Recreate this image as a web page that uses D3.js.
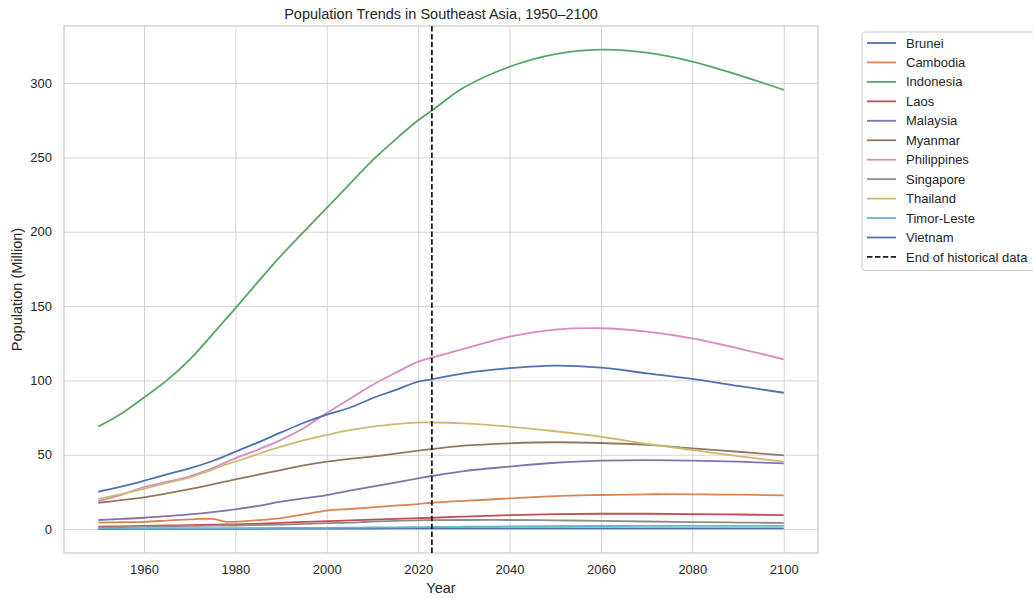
<!DOCTYPE html>
<html>
<head>
<meta charset="utf-8">
<script src="https://cdn.jsdelivr.net/npm/d3@7"></script>
<style>
  body { margin: 0; background: #fff; }
  svg { font-family: "Liberation Sans", Arial, sans-serif; }
</style>
</head>
<body>
<svg id="chart" width="1033" height="599"></svg>
<script>
// population in millions
const years = [1950, 1955, 1960, 1965, 1970, 1975, 1978, 1980, 1985, 1990, 1995, 2000, 2005,
  2010, 2015, 2020, 2023, 2030, 2040, 2050, 2060, 2070, 2080, 2090, 2100];

const countries = ["Brunei", "Cambodia", "Indonesia", "Laos", "Malaysia", "Myanmar",
  "Philippines", "Singapore", "Thailand", "Timor-Leste", "Vietnam"];

const brunei = [0.05, 0.06, 0.08, 0.1, 0.13, 0.16, 0.18, 0.19, 0.22, 0.26, 0.3, 0.33, 0.36,
  0.39, 0.42, 0.44, 0.46, 0.49, 0.52, 0.53, 0.53, 0.52, 0.5, 0.48, 0.46];
const cambodia = [4.3, 4.6, 4.9, 5.7, 6.5, 6.8, 4.9, 4.9, 6.0, 7.4, 9.9, 12.4, 13.5,
  14.6, 15.7, 16.8, 17.7, 19.0, 20.6, 22.2, 22.9, 23.4, 23.4, 23.1, 22.7];
const indonesia = [68.9, 77.5, 88.5, 100, 114, 131, 141.5, 148.5, 166.5, 184, 200, 216, 232,
  248, 262, 275, 281.5, 297, 311, 319.5, 322.5, 320.5, 314.5, 305.5, 295.5];
const laos = [1.6, 1.8, 2.1, 2.4, 2.7, 3.0, 3.1, 3.2, 3.6, 4.2, 4.8, 5.3, 5.8,
  6.3, 6.8, 7.3, 7.6, 8.4, 9.4, 10.0, 10.3, 10.3, 10.1, 9.8, 9.4];
const malaysia = [6.1, 6.8, 7.6, 8.7, 9.9, 11.4, 12.5, 13.2, 15.6, 18.4, 20.7, 22.9, 25.8,
  28.6, 31.3, 34.1, 35.7, 39.0, 42.0, 44.6, 46.0, 46.4, 46.0, 45.3, 44.2];
const myanmar = [17.7, 19.4, 21.3, 24.0, 26.9, 30.0, 32.0, 33.4, 36.6, 39.7, 42.8, 45.3, 47.2,
  48.7, 50.7, 52.7, 53.8, 56.1, 57.7, 58.4, 57.9, 56.6, 54.3, 52.0, 49.6];
const philippines = [18.8, 23.0, 28.3, 31.7, 35.5, 41.0, 45.0, 47.6, 53.5, 60.0, 68.0, 78.0, 87.5,
  96.9, 105.0, 112.6, 115.3, 121.2, 129.4, 134.2, 135.1, 132.8, 128.3, 121.6, 114.2];
const singapore = [1.0, 1.3, 1.6, 1.9, 2.1, 2.3, 2.4, 2.4, 2.7, 3.0, 3.5, 4.0, 4.3,
  5.1, 5.5, 5.9, 6.0, 6.1, 6.1, 5.9, 5.5, 5.1, 4.7, 4.4, 4.1];
const thailand = [20.2, 23.5, 27.1, 31.0, 34.8, 40.0, 43.5, 45.3, 50.5, 55.4, 59.8, 63.3, 66.5,
  68.9, 70.6, 71.6, 71.7, 71.1, 68.9, 65.8, 62.1, 57.3, 53.2, 49.1, 45.3];
const timorLeste = [0.43, 0.47, 0.5, 0.55, 0.6, 0.65, 0.6, 0.6, 0.68, 0.75, 0.85, 0.85, 1.0,
  1.1, 1.2, 1.3, 1.4, 1.55, 1.75, 1.9, 2.05, 2.15, 2.2, 2.2, 2.2];
const vietnam = [25.1, 28.5, 32.5, 36.8, 40.8, 45.8, 49.5, 52.0, 58.3, 65.0, 71.5, 77.0, 81.6,
  88.0, 93.5, 99.2, 100.7, 104.8, 108.2, 110.0, 108.6, 104.8, 101.0, 96.3, 91.7];

const series = [brunei, cambodia, indonesia, laos, malaysia, myanmar,
  philippines, singapore, thailand, timorLeste, vietnam];

const palette = ["#4C72B0", "#DD8452", "#55A868", "#C44E52", "#8172B3",
  "#937860", "#DA8BC3", "#8C8C8C", "#CCB974", "#64B5CD"];

const historyEnd = 2023;
const xTicks = [1960, 1980, 2000, 2020, 2040, 2060, 2080, 2100];
const yTicks = [0, 50, 100, 150, 200, 250, 300];

const plotLeft = 64, plotRight = 818, plotTop = 26, plotBottom = 553;
const textColor = "#262626";
const gridColor = "#d4d4d4";

const x = d3.scaleLinear().domain([1942.5, 2107.5]).range([plotLeft, plotRight]);
const y = d3.scaleLinear().domain([-16.1, 338.4]).range([plotBottom, plotTop]);
const color = i => palette[i % palette.length];

const svg = d3.select("#chart");

// grid + tick labels
const xAxis = svg.append("g")
    .attr("transform", `translate(0,${plotBottom})`)
    .call(d3.axisBottom(x).tickValues(xTicks).tickFormat(d3.format("d"))
      .tickSize(-(plotBottom - plotTop)).tickPadding(12));
const yAxis = svg.append("g")
    .attr("transform", `translate(${plotLeft},0)`)
    .call(d3.axisLeft(y).tickValues(yTicks)
      .tickSize(-(plotRight - plotLeft)).tickPadding(12));

[xAxis, yAxis].forEach(g => {
  g.select(".domain").remove();
  g.selectAll(".tick line").attr("stroke", gridColor).attr("stroke-width", 1);
  g.selectAll(".tick text").attr("fill", textColor)
    .style("font-size", "13px").style("font-family", "'Liberation Sans', Arial, sans-serif");
});

// frame
svg.append("rect")
    .attr("x", plotLeft).attr("y", plotTop)
    .attr("width", plotRight - plotLeft).attr("height", plotBottom - plotTop)
    .attr("fill", "none").attr("stroke", "#cccccc").attr("stroke-width", 1.25);

svg.append("clipPath").attr("id", "plot-clip")
  .append("rect")
    .attr("x", plotLeft).attr("y", plotTop)
    .attr("width", plotRight - plotLeft).attr("height", plotBottom - plotTop);

const line = d3.line()
    .x(d => x(d[0]))
    .y(d => y(d[1]))
    .curve(d3.curveCatmullRom.alpha(0.5));

svg.append("g").attr("clip-path", "url(#plot-clip)")
  .selectAll("path")
  .data(series)
  .enter().append("path")
    .attr("d", s => line(years.map((yr, i) => [yr, s[i]])))
    .attr("fill", "none")
    .attr("stroke", (s, i) => color(i))
    .attr("stroke-width", 1.8)
    .attr("stroke-linejoin", "round");

// end of historical data
svg.append("line")
    .attr("x1", x(historyEnd)).attr("x2", x(historyEnd))
    .attr("y1", plotTop).attr("y2", plotBottom)
    .attr("stroke", "#1a1a1a")
    .attr("stroke-width", 1.8)
    .attr("stroke-dasharray", "5.5,2.4");

// title and axis labels
svg.append("text")
    .attr("x", (plotLeft + plotRight) / 2).attr("y", 19)
    .attr("text-anchor", "middle")
    .attr("fill", textColor)
    .style("font-size", "14.5px")
    .text("Population Trends in Southeast Asia, 1950–2100");

svg.append("text")
    .attr("x", (plotLeft + plotRight) / 2).attr("y", 593)
    .attr("text-anchor", "middle")
    .attr("fill", textColor)
    .style("font-size", "14.5px")
    .text("Year");

svg.append("text")
    .attr("transform", `translate(22,${(plotTop + plotBottom) / 2}) rotate(-90)`)
    .attr("text-anchor", "middle")
    .attr("fill", textColor)
    .style("font-size", "14.5px")
    .text("Population (Million)");

// legend
const legendItems = countries.map((c, i) => ({ name: c, color: color(i), dashed: false }))
  .concat([{ name: "End of historical data", color: "#1a1a1a", dashed: true }]);

const legendX = 862, legendY = 32, rowH = 19.45;
const legend = svg.append("g");

legend.append("rect")
    .attr("x", legendX).attr("y", legendY)
    .attr("width", 200).attr("height", legendItems.length * rowH + 5)
    .attr("rx", 3)
    .attr("fill", "#fff").attr("fill-opacity", 0.8)
    .attr("stroke", "#cccccc").attr("stroke-width", 1);

const rows = legend.selectAll("g.legend-item")
  .data(legendItems)
  .enter().append("g")
    .attr("class", "legend-item")
    .attr("transform", (d, i) => `translate(0,${legendY + 11 + i * rowH})`);

rows.append("line")
    .attr("x1", legendX + 5).attr("x2", legendX + 34)
    .attr("y1", 0).attr("y2", 0)
    .attr("stroke", d => d.color)
    .attr("stroke-width", 1.8)
    .attr("stroke-dasharray", d => d.dashed ? "5.5,2.4" : null);

rows.append("text")
    .attr("x", legendX + 44).attr("y", 0)
    .attr("dy", "0.35em")
    .attr("fill", textColor)
    .style("font-size", "13px")
    .text(d => d.name);
</script>
</body>
</html>
